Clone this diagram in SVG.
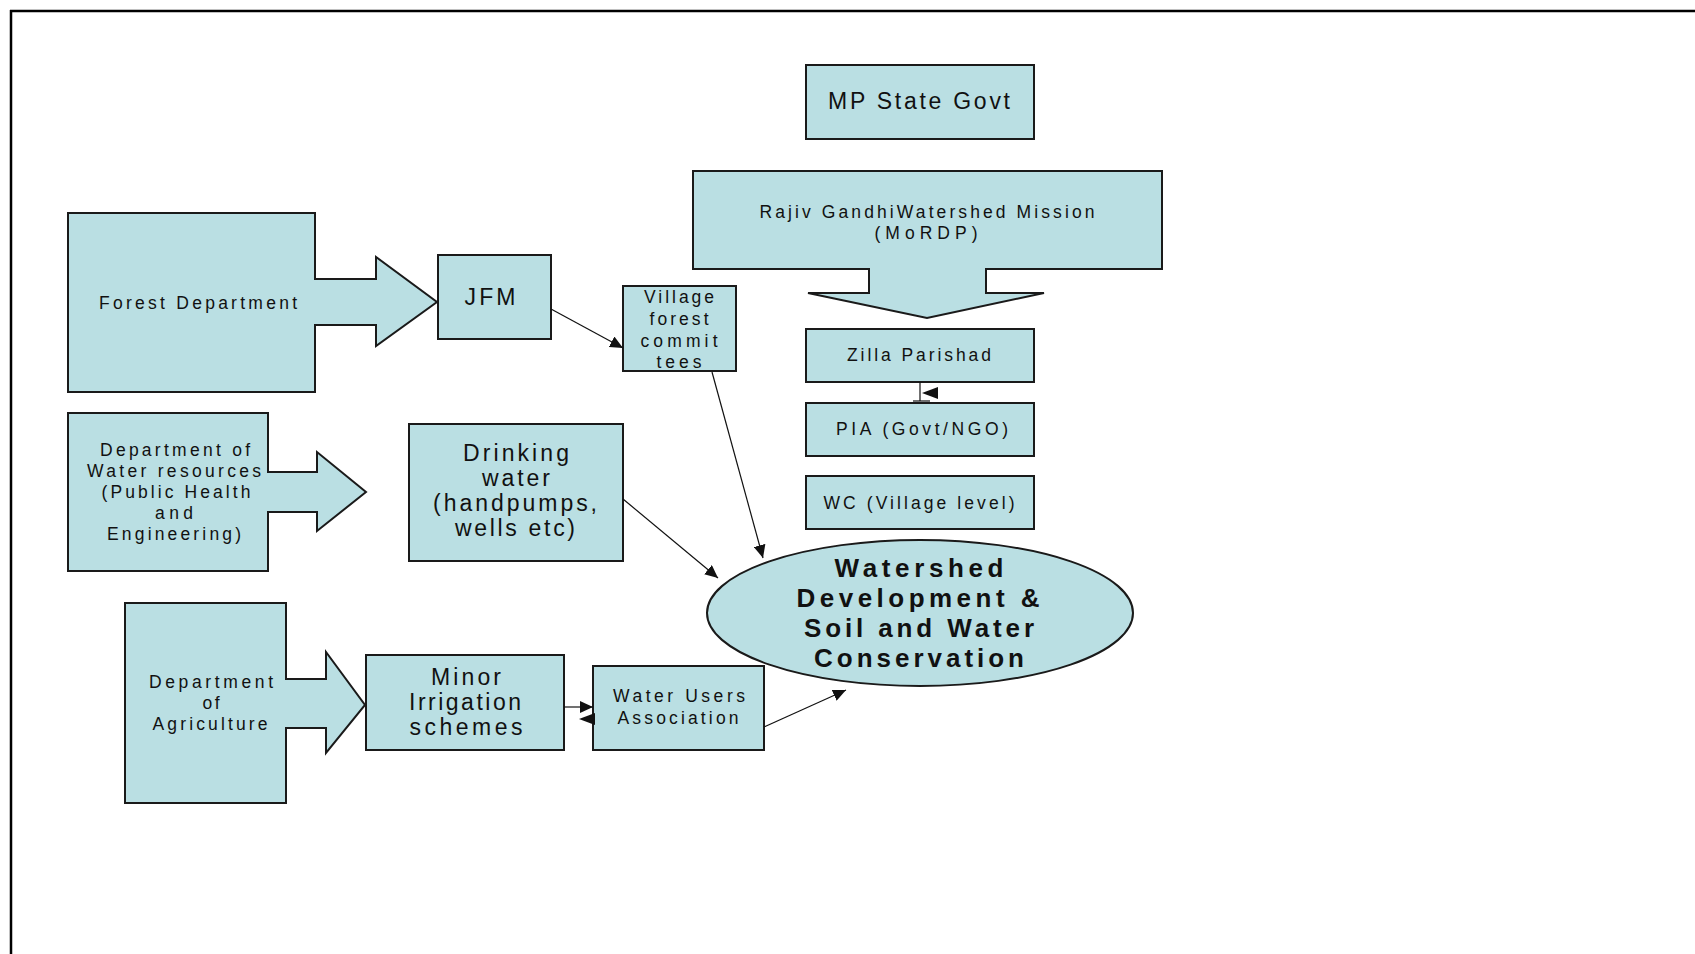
<svg xmlns="http://www.w3.org/2000/svg" width="1695" height="954" viewBox="0 0 1695 954">
<style>
.shape{fill:#BADFE3;stroke:#1a1a1a;stroke-width:2}
.t{font-family:"Liberation Sans",Arial,sans-serif;fill:#111;text-anchor:middle}
.s{font-size:17.5px}
.l{font-size:23px}
.b{font-size:26px;font-weight:bold}
.c{stroke:#111;stroke-width:1.2;fill:none}
</style>
<defs>
<marker id="ah" markerUnits="userSpaceOnUse" markerWidth="14" markerHeight="12" refX="13" refY="6" orient="auto">
<path d="M0,0 L13,6 L0,12 Z" fill="#111"/>
</marker>
</defs>
<rect width="1695" height="954" fill="#fff"/>
<g id="frame">
<line x1="10" y1="11" x2="1695" y2="11" stroke="#000" stroke-width="2.5"/>
<line x1="11" y1="10" x2="11" y2="954" stroke="#000" stroke-width="2.5"/>
</g>

<g id="forest-dept">
<path class="shape" d="M68,213 H315 V279 H376 V257 L437,302 L376,346 V325 H315 V392 H68 Z"/>
<text class="t s" x="198" y="309" textLength="198">Forest Department</text>
</g>
<g id="jfm">
<rect class="shape" x="438" y="255" width="113" height="84"/>
<text class="t l" x="490" y="305" textLength="51">JFM</text>
</g>
<g id="village-forest">
<rect class="shape" x="623" y="286" width="113" height="85"/>
<text class="t s" x="679" y="303" textLength="70">Village</text>
<text class="t s" x="679" y="325" textLength="59">forest</text>
<text class="t s" x="679" y="347" textLength="77">commit</text>
<text class="t s" x="679" y="368" textLength="45">tees</text>
</g>
<g id="water-dept">
<path class="shape" d="M68,413 H268 V472 H317 V452 L366,492 L317,531 V512 H268 V571 H68 Z"/>
<text class="t s" x="175" y="456" textLength="150">Department of</text>
<text class="t s" x="174" y="477" textLength="174">Water resources</text>
<text class="t s" x="176" y="498" textLength="149">(Public Health</text>
<text class="t s" x="174" y="519" textLength="38">and</text>
<text class="t s" x="174" y="540" textLength="134">Engineering)</text>
</g>
<g id="drinking-water">
<rect class="shape" x="409" y="424" width="214" height="137"/>
<text class="t l" x="516" y="461" textLength="106">Drinking</text>
<text class="t l" x="516" y="486" textLength="68">water</text>
<text class="t l" x="515" y="511" textLength="164">(handpumps,</text>
<text class="t l" x="515" y="536" textLength="120">wells etc)</text>
</g>
<g id="agriculture-dept">
<path class="shape" d="M125,603 H286 V679 H326 V652 L365,705 L326,753 V728 H286 V803 H125 Z"/>
<text class="t s" x="211" y="688" textLength="124">Department</text>
<text class="t s" x="211" y="709" textLength="17">of</text>
<text class="t s" x="210" y="730" textLength="115">Agriculture</text>
</g>
<g id="minor-irrigation">
<rect class="shape" x="366" y="655" width="198" height="95"/>
<text class="t l" x="466" y="685" textLength="70">Minor</text>
<text class="t l" x="465" y="710" textLength="112">Irrigation</text>
<text class="t l" x="466" y="735" textLength="113">schemes</text>
</g>
<g id="water-users">
<rect class="shape" x="593" y="666" width="171" height="84"/>
<text class="t s" x="679" y="702" textLength="132">Water Users</text>
<text class="t s" x="678" y="724" textLength="121">Association</text>
</g>
<g id="mp-state-govt">
<rect class="shape" x="806" y="65" width="228" height="74"/>
<text class="t l" x="919" y="109" textLength="182">MP State Govt</text>
</g>
<g id="rgwm">
<path class="shape" d="M693,171 H1162 V269 H986 V293 H1044 L927,318 L808,293 H869 V269 H693 Z"/>
<text class="t s" x="927" y="218" textLength="335">Rajiv GandhiWatershed Mission</text>
<text class="t s" x="926" y="239" textLength="103">(MoRDP)</text>
</g>
<g id="zilla-parishad">
<rect class="shape" x="806" y="329" width="228" height="53"/>
<text class="t s" x="919" y="361" textLength="144">Zilla Parishad</text>
</g>
<g id="pia">
<rect class="shape" x="806" y="403" width="228" height="53"/>
<text class="t s" x="922" y="435" textLength="172">PIA (Govt/NGO)</text>
</g>
<g id="wc">
<rect class="shape" x="806" y="476" width="228" height="53"/>
<text class="t s" x="919" y="509" textLength="191">WC (Village level)</text>
</g>
<g id="watershed">
<ellipse class="shape" cx="920" cy="613" rx="213" ry="73"/>
<text class="t b" x="919" y="577" textLength="169">Watershed</text>
<text class="t b" x="918" y="607" textLength="243">Development &amp;</text>
<text class="t b" x="919" y="637" textLength="230">Soil and Water</text>
<text class="t b" x="919" y="667" textLength="210">Conservation</text>
</g>

<g id="connectors">
<line class="c" x1="551" y1="309" x2="623" y2="348" marker-end="url(#ah)"/>
<line class="c" x1="712" y1="372" x2="763" y2="558" marker-end="url(#ah)"/>
<line class="c" x1="623" y1="499" x2="718" y2="578" marker-end="url(#ah)"/>
<line class="c" x1="764" y1="727" x2="846" y2="690" marker-end="url(#ah)"/>
<line class="c" x1="564" y1="707" x2="593" y2="707" marker-end="url(#ah)"/>
<path d="M579,719 L595,713 L595,725 Z" fill="#111"/>
<line class="c" x1="920" y1="382" x2="920" y2="401"/>
<line class="c" x1="913" y1="401" x2="930" y2="401"/>
<path d="M922,393 L938,387 L938,399 Z" fill="#111"/>
</g>
</svg>
